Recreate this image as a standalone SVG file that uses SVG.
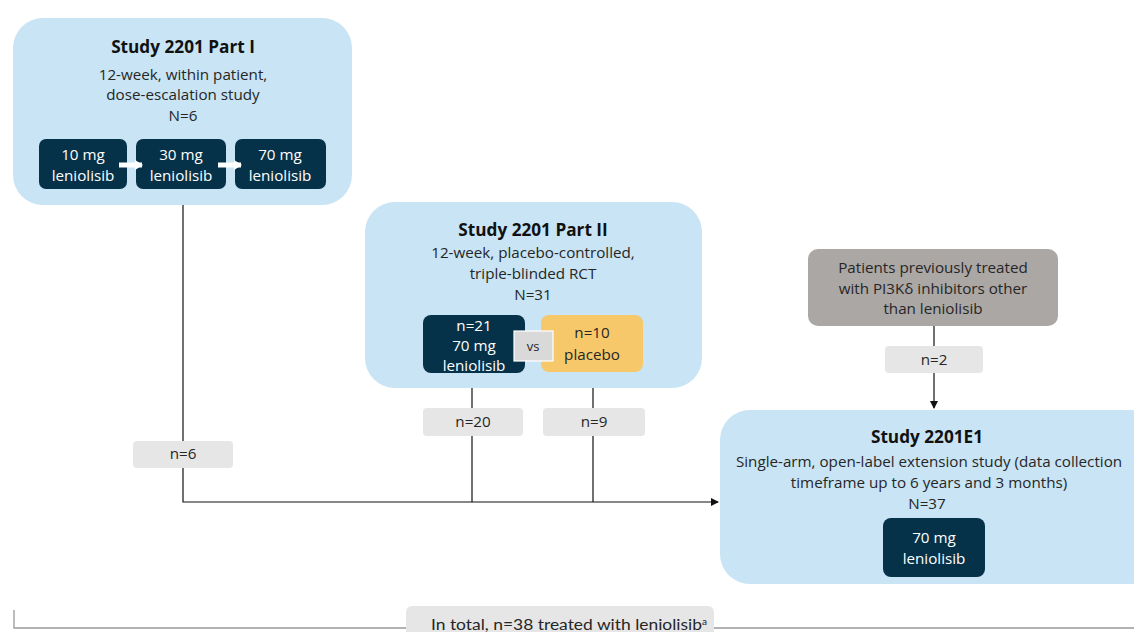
<svg xmlns="http://www.w3.org/2000/svg" width="1134" height="632" viewBox="0 0 1134 632">
<style>
text{font-family:"Open Sans",Lato,"Liberation Sans",sans-serif;font-size:15.2px;fill:#262626;text-anchor:middle}
.t{font-weight:bold;font-size:17.2px;fill:#111}
.w{fill:#ffffff;font-size:15.2px}
.big{fill:#C8E4F5}
.dk{fill:#063249}
.lab{fill:#E6E6E6}
.ln{stroke:#111;stroke-width:1.2;fill:none}
</style>
<defs>
<marker id="ah" markerWidth="8" markerHeight="8" refX="7" refY="4" orient="auto" markerUnits="userSpaceOnUse">
<path d="M0,0 L8,4 L0,8 Z" fill="#111"/>
</marker>
<marker id="wa" markerWidth="8" markerHeight="10" refX="7" refY="5" orient="auto" markerUnits="userSpaceOnUse">
<path d="M0,0 L8,5 L0,10 Z" fill="#fff"/>
</marker>
</defs>
<g id="connectors">
<path class="ln" d="M183,205 V502 H718" marker-end="url(#ah)"/>
<path class="ln" d="M472,388 V502"/>
<path class="ln" d="M593,388 V502"/>
<path class="ln" d="M934,326 V408" marker-end="url(#ah)"/>
<path d="M14,610 V628 H1134" stroke="#999" stroke-width="1.3" fill="none"/>
</g>
<g id="part1">
<rect class="big" x="13" y="18" width="339" height="187" rx="30"/>
<text class="t" x="183" y="53">Study 2201 Part I</text>
<text x="183" y="80">12-week, within patient,</text>
<text x="183" y="100">dose-escalation study</text>
<text x="183" y="121">N=6</text>
<rect class="dk" x="39" y="139" width="88" height="50" rx="7"/>
<text class="w" x="83" y="160">10 mg</text>
<text class="w" x="83" y="181">leniolisib</text>
<rect class="dk" x="136" y="139" width="90" height="50" rx="7"/>
<text class="w" x="181" y="160">30 mg</text>
<text class="w" x="181" y="181">leniolisib</text>
<rect class="dk" x="235" y="139" width="91" height="50" rx="7"/>
<text class="w" x="280" y="160">70 mg</text>
<text class="w" x="280" y="181">leniolisib</text>
<path d="M119,165 H142" stroke="#fff" stroke-width="5" marker-end="url(#wa)"/>
<path d="M218,165 H241" stroke="#fff" stroke-width="5" marker-end="url(#wa)"/>
</g>
<g id="part2">
<rect class="big" x="365" y="202" width="337" height="186" rx="30"/>
<text class="t" x="533" y="236">Study 2201 Part II</text>
<text x="533" y="258">12-week, placebo-controlled,</text>
<text x="533" y="279">triple-blinded RCT</text>
<text x="533" y="300">N=31</text>
<rect class="dk" x="423" y="315" width="102" height="58" rx="8"/>
<text class="w" x="474" y="331">n=21</text>
<text class="w" x="474" y="351">70 mg</text>
<text class="w" x="474" y="371">leniolisib</text>
<rect x="541" y="315" width="102" height="57" rx="8" fill="#F7C86A"/>
<text x="592" y="338">n=10</text>
<text x="592" y="360">placebo</text>
<rect x="514" y="331" width="39" height="30" fill="#D9D9D9" stroke="#fff" stroke-width="1.2"/>
<text x="533" y="351" style="font-size:13px">vs</text>
</g>
<g id="prev">
<rect x="808" y="249" width="250" height="77" rx="10" fill="#ABA7A5"/>
<text x="933" y="273">Patients previously treated</text>
<text x="933" y="294">with PI3Kδ inhibitors other</text>
<text x="933" y="314">than leniolisib</text>
</g>
<g id="e1">
<rect class="big" x="720" y="410" width="440" height="174" rx="30"/>
<text class="t" x="927" y="443">Study 2201E1</text>
<text x="929" y="467">Single-arm, open-label extension study (data collection</text>
<text x="929" y="488">timeframe up to 6 years and 3 months)</text>
<text x="927" y="509">N=37</text>
<rect class="dk" x="883" y="518" width="102" height="59" rx="8"/>
<text class="w" x="934" y="543">70 mg</text>
<text class="w" x="934" y="564">leniolisib</text>
</g>
<g id="labels">
<rect class="lab" x="133" y="441" width="100" height="27" rx="4"/>
<text x="183" y="459">n=6</text>
<rect class="lab" x="423" y="408" width="100" height="28" rx="4"/>
<text x="473" y="427">n=20</text>
<rect class="lab" x="543" y="408" width="102" height="28" rx="4"/>
<text x="594" y="427">n=9</text>
<rect class="lab" x="885" y="346" width="98" height="27" rx="4"/>
<text x="934" y="365">n=2</text>
<rect class="lab" x="406" y="606" width="308" height="40" rx="6"/>
<text x="569" y="630" style="font-family:Lato,'Liberation Sans',sans-serif;font-size:15.5px" textLength="276" lengthAdjust="spacingAndGlyphs">In total, n=38 treated with leniolisib<tspan style="font-size:9px" dy="-5">a</tspan></text>
</g>
</svg>
